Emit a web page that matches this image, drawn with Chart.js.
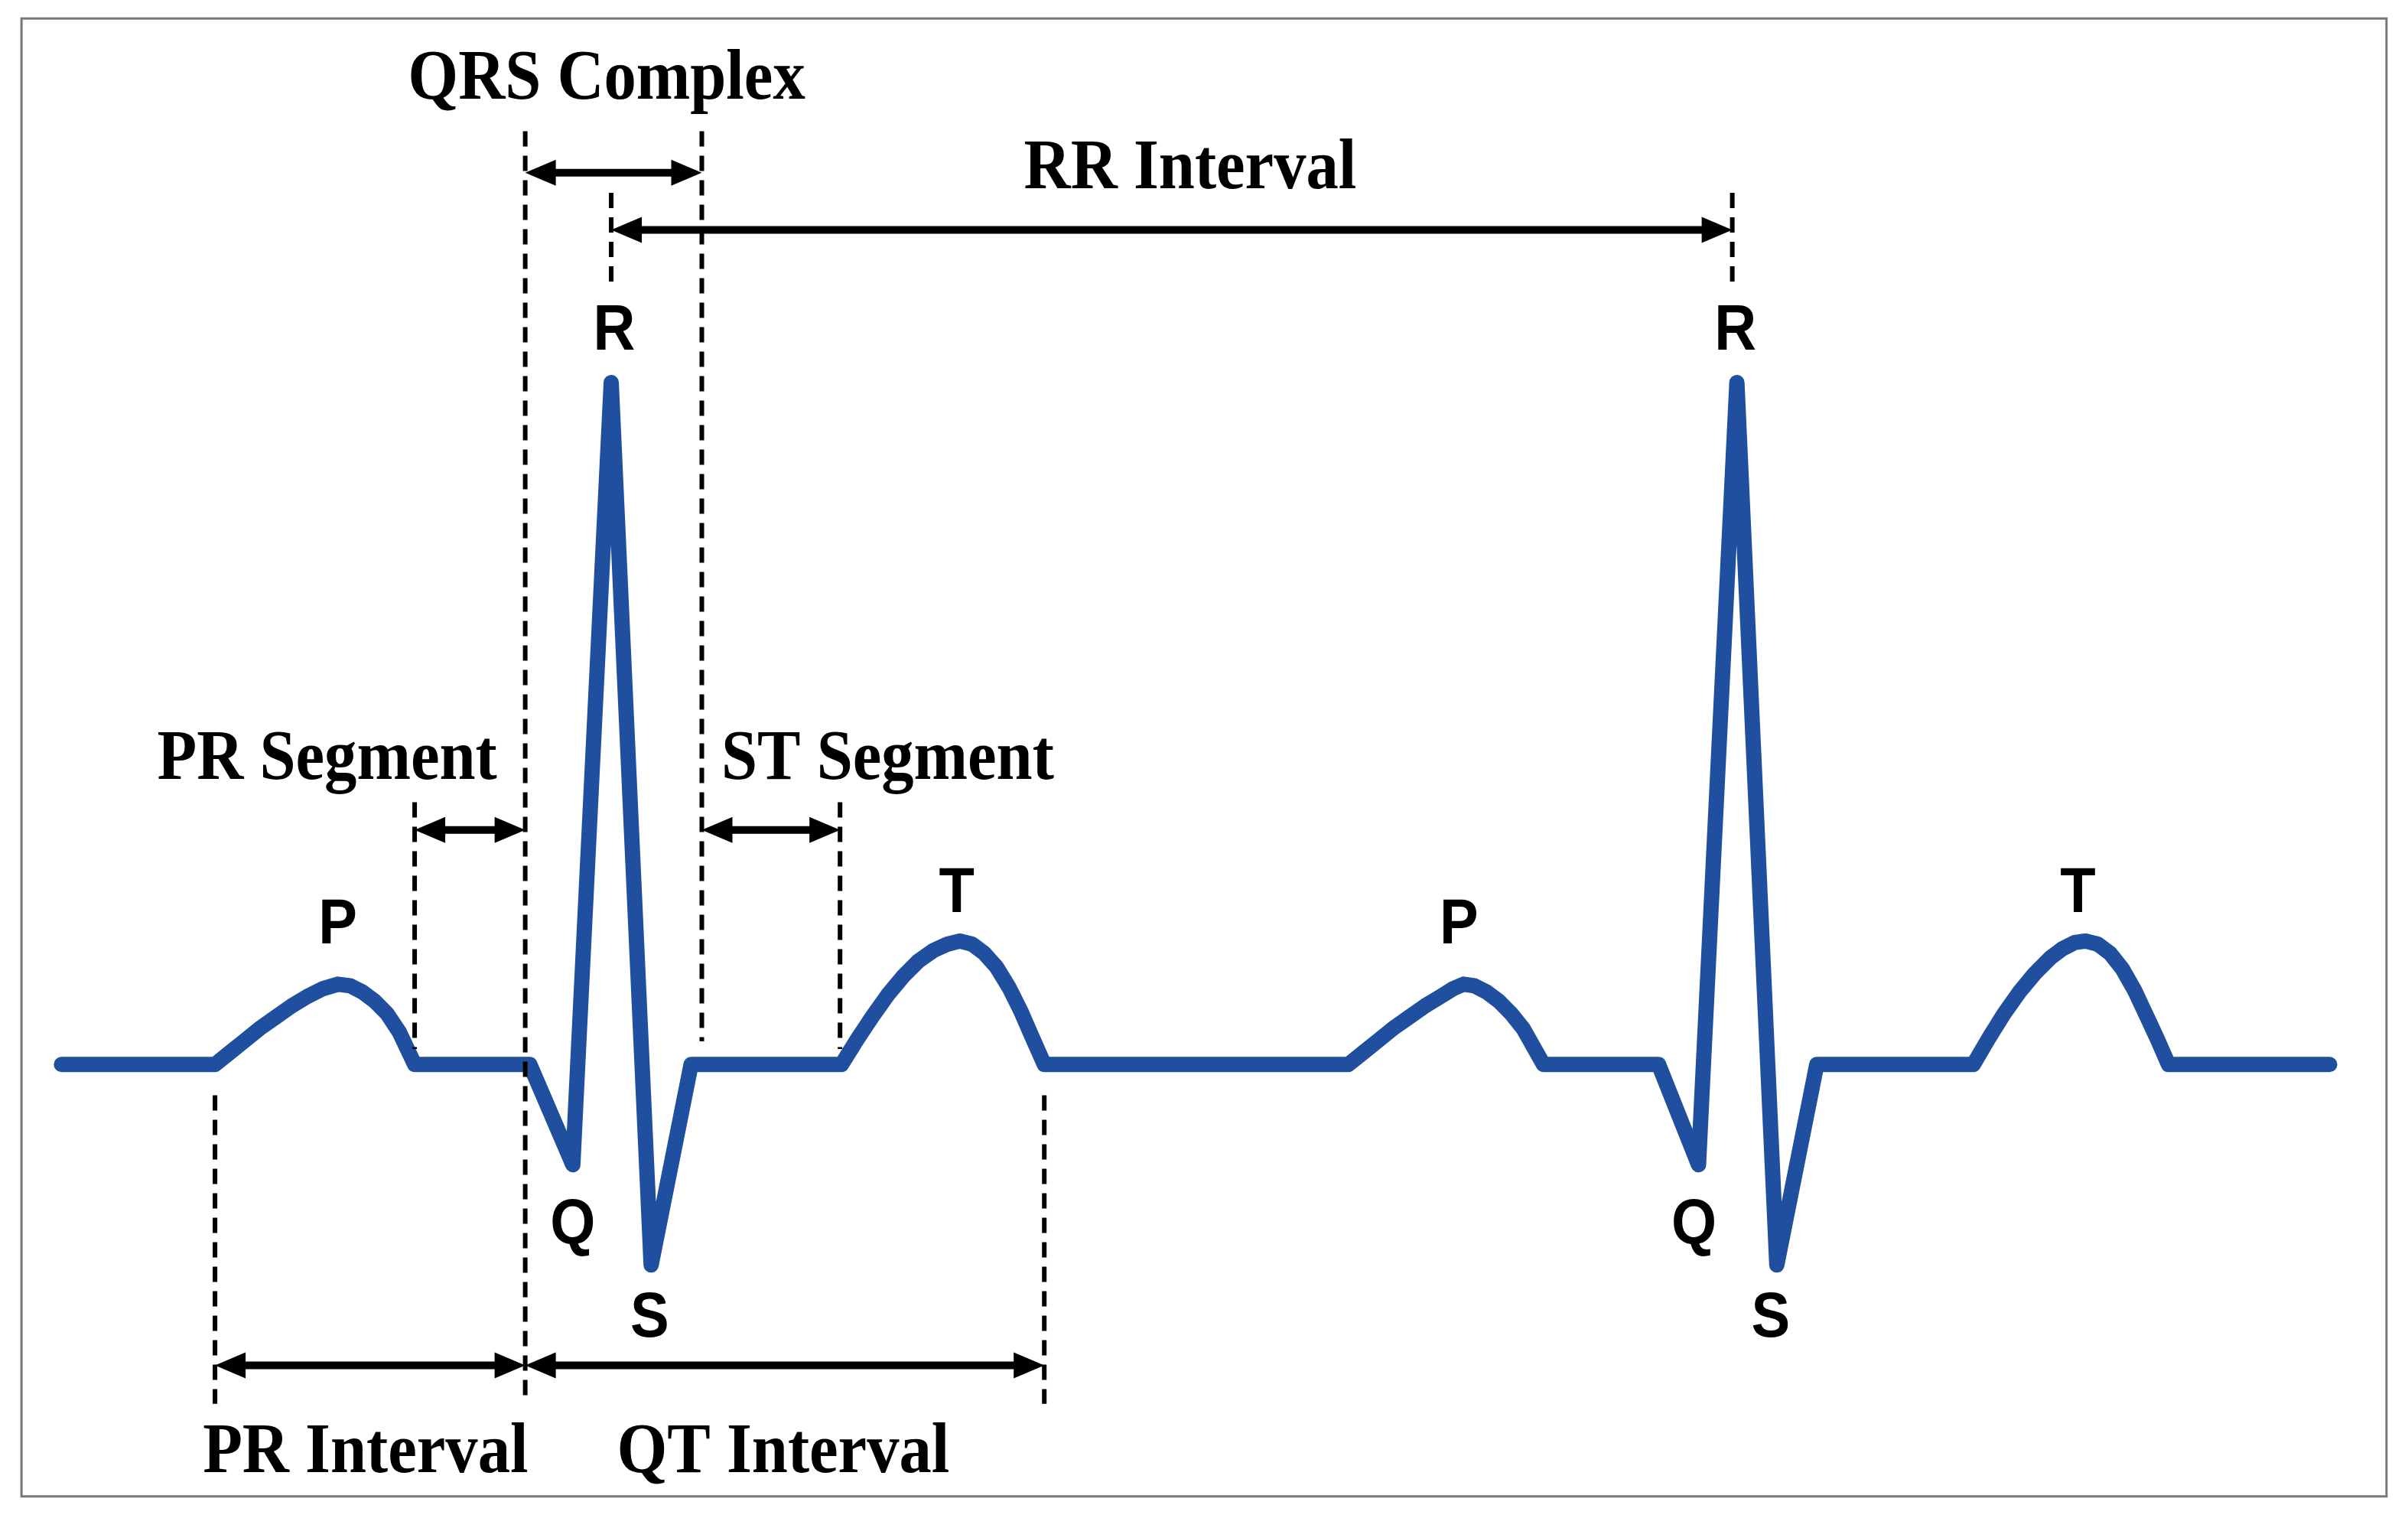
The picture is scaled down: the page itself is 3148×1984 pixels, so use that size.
<!DOCTYPE html>
<html><head><meta charset="utf-8">
<script src="https://cdn.jsdelivr.net/npm/chart.js@4.4.1/dist/chart.umd.min.js"></script>
<style>html,body{margin:0;padding:0;background:#fff;overflow:hidden}#wrap{width:3148px;height:1984px}</style>
</head><body><div id="wrap"><canvas id="c" width="3148" height="1984"></canvas></div>
<script>
// ECG trace: time (x) and amplitude (y, baseline = 0)
const traceX = [40,140,150,160,170,180,190,200,210,220,228,236,244,252,260,270,345,373,398,424,450,548,558,568,578,588,598,608,617,625,633,641,649,657,665,672,680,878,888,898,908,918,928,938,946,953,960,968,976,984,992,1005,1080,1106,1131,1157,1183,1285,1295,1305,1315,1325,1335,1343,1351,1358,1366,1374,1382,1390,1398,1405,1412,1517];
const traceY = [0,0,8,16,24,31,38,44,49,52,51,47,41,33,21,0,0,-65,442,-130,0,0,16,31,45,57,67,74,78,80,78,72,63,50,34,18,0,0,8,16,24,31,38,44,49,52,51,47,41,33,23,0,0,-65,442,-130,0,0,17,33,47,59,69,75,79,80,78,72,62,48,31,16,0,0];
// dashed guides: [x, yFrom, yTo]
const guides = [[140,-20,-220],[270,170,10],[342,605,-220],[398,565,505],[457,605,15],[547,170,10],[680,-20,-220],[1128,565,505]];
// double arrows: [x1, x2, y]
const arrows = [[342,457,578],[398,1128,541],[270,342,152],[457,547,152],[140,342,-195],[342,680,-195]];
// interval captions: [text, x, y]
const captions = [["QRS Complex",395,638],["RR Interval",775,580],["PR Segment",213,197],["ST Segment",578,197],["PR Interval",238,-252],["QT Interval",510,-252]];
// wave letters: [text, x, y]
const letters = [["R",400,475],["R",1130,475],["P",220,90],["P",950,90],["T",623,110],["T",1353,110],["Q",373,-105],["Q",1103,-105],["S",423,-165],["S",1153,-165]];

const pts = traceX.map((x,i)=>({x, y: traceY[i]}));
const annot = {
  id:'annot',
  afterDatasetsDraw(chart){
    const c = chart.ctx, sx = chart.scales.x, sy = chart.scales.y;
    const X = v=>sx.getPixelForValue(v), Y = v=>sy.getPixelForValue(v);
    c.save();
    c.strokeStyle='#777'; c.lineWidth=3; c.strokeRect(X(14),Y(678),X(1554)-X(14),Y(-280)-Y(678));
    c.strokeStyle='#000'; c.lineWidth=6; c.setLineDash([20,12]);
    guides.forEach(g=>{c.beginPath();c.moveTo(X(g[0]),Y(g[1]));c.lineTo(X(g[0]),Y(g[2]));c.stroke();});
    c.setLineDash([]); c.lineWidth=10; c.fillStyle='#000';
    arrows.forEach(a=>{
      const x1=X(a[0]),x2=X(a[1]),y=Y(a[2]),h=30,w=17;
      c.beginPath();c.moveTo(x1+h,y);c.lineTo(x2-h,y);c.stroke();
      c.beginPath();c.moveTo(x1,y);c.lineTo(x1+h+10,y-w);c.lineTo(x1+h+10,y+w);c.closePath();c.fill();
      c.beginPath();c.moveTo(x2,y);c.lineTo(x2-h-10,y-w);c.lineTo(x2-h-10,y+w);c.closePath();c.fill();
    });
    c.textAlign='center'; c.textBaseline='middle';
    c.font='bold 94px "Liberation Serif", "Times New Roman", serif';
    captions.forEach(t=>{c.save();c.translate(X(t[1]),Y(t[2]));c.scale(0.9,1.0);c.fillText(t[0],0,0);c.restore();});
    c.font='bold 76px "Liberation Sans", Arial, sans-serif';
    letters.forEach(t=>{c.save();c.translate(X(t[1]),Y(t[2]));c.scale(1,1.1);c.fillText(t[0],0,0);c.restore();});
    c.restore();
  }
};
new Chart(document.getElementById('c'),{
  type:'line',
  data:{datasets:[{data:pts,borderColor:'#1f4f9e',borderWidth:20,pointRadius:0,tension:0,borderCapStyle:'round',borderJoinStyle:'round',fill:false}]},
  options:{responsive:false,animation:false,devicePixelRatio:1,
    layout:{padding:0},
    plugins:{legend:{display:false},tooltip:{enabled:false}},
    scales:{x:{type:'linear',min:0,max:1568,display:false},y:{type:'linear',min:-294,max:690,display:false}}},
  plugins:[annot]
});
</script></body></html>
